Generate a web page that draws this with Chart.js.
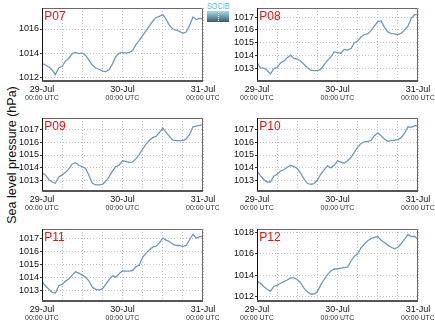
<!DOCTYPE html>
<html><head><meta charset="utf-8">
<script src="https://cdn.jsdelivr.net/npm/chart.js@4.4.0/dist/chart.umd.min.js"></script>
<style>
html,body{margin:0;padding:0;background:#fff;width:435px;height:327px;overflow:hidden;position:relative;font-family:"Liberation Sans",Arial,sans-serif}
canvas{position:absolute}
#ytitle{position:absolute;left:12px;top:155px;transform:translate(-50%,-50%) rotate(-90deg);white-space:nowrap;font-size:12.5px;color:#111}
#logo{position:absolute;left:207px;top:2px;width:22px}
#logo .t{font-size:8.5px;line-height:8px;color:#4cc3d9;letter-spacing:0;transform:scaleX(0.85);transform-origin:left}
#logo .b{width:22px;height:11px;margin-top:1px;background:linear-gradient(#a6dde8,#3a5a6d);position:relative}
#logo .b:after{content:"";position:absolute;left:11px;top:1px;height:9px;border-left:1px dotted #fff}
</style></head><body>
<div id="ytitle">Sea level pressure (hPa)</div>
<div id="logo"><div class="t">SOCIB</div><div class="b"></div></div>
<script>
const hours = [0,1,2,3,4,5,6,7,8,9,10,11,12,13,14,15,16,17,18,19,20,21,22,23,24,25,26,27,28,29,30,31,32,33,34,35,36,37,38,39,40,41,42,43,44,45,46,47,48];
const gridHours = [0,6,12,18,24,30,36,42,48];
const labelHours = [0,24,48];
const dateLabels = ['29-Jul','30-Jul','31-Jul'];
const timeLabel = '00:00 UTC';

const P07 = [1013.15,1013.0,1012.85,1012.6,1012.2,1012.75,1012.9,1013.35,1013.55,1013.95,1014.05,1013.95,1014.0,1013.8,1013.4,1013.0,1012.75,1012.65,1012.5,1012.45,1012.6,1013.1,1013.7,1014.0,1014.05,1014.0,1014.05,1014.2,1014.7,1015.05,1015.45,1015.85,1016.25,1016.65,1016.95,1017.05,1017.2,1016.8,1016.3,1016.0,1015.9,1015.8,1015.65,1015.75,1016.3,1017.0,1016.8,1016.88,1016.85];
const P08 = [1013.5,1013.05,1013.05,1012.9,1012.6,1013.0,1013.1,1013.45,1013.6,1013.85,1014.05,1013.8,1013.75,1013.6,1013.35,1013.1,1012.9,1012.85,1012.85,1012.95,1013.3,1013.65,1013.9,1014.3,1014.25,1014.2,1014.5,1014.45,1014.55,1015.0,1015.15,1015.45,1015.65,1015.7,1015.95,1016.3,1016.65,1016.7,1016.2,1015.85,1015.72,1015.7,1015.65,1015.75,1016.0,1016.3,1016.9,1017.2,1017.15];
const P09 = [1013.6,1013.45,1013.1,1012.9,1012.8,1013.3,1013.45,1013.65,1013.9,1014.3,1014.4,1014.2,1014.1,1013.95,1013.4,1012.8,1012.68,1012.68,1012.72,1012.95,1013.3,1013.75,1014.1,1014.2,1014.55,1014.5,1014.43,1014.45,1014.7,1015.05,1015.45,1015.85,1016.15,1016.35,1016.45,1016.75,1017.1,1016.75,1016.45,1016.15,1016.12,1016.12,1016.12,1016.25,1016.6,1017.2,1017.25,1017.3,1017.35];
const P10 = [1013.75,1013.4,1013.1,1012.9,1012.9,1013.35,1013.5,1013.75,1013.85,1014.05,1014.2,1014.1,1013.95,1013.6,1013.15,1012.8,1012.72,1012.78,1013.05,1013.5,1013.85,1014.15,1014.0,1014.2,1014.55,1014.45,1014.35,1014.55,1014.8,1015.2,1015.6,1015.9,1016.02,1016.05,1016.15,1016.5,1016.72,1016.5,1016.25,1016.06,1016.12,1016.15,1016.2,1016.35,1016.7,1017.2,1017.15,1017.28,1017.26];
const P11 = [1013.7,1013.4,1013.15,1012.9,1012.85,1013.4,1013.5,1013.75,1013.9,1014.2,1014.45,1014.35,1014.2,1014.05,1013.75,1013.3,1013.12,1013.08,1013.15,1013.5,1013.85,1014.15,1014.05,1014.3,1014.52,1014.5,1014.5,1014.55,1014.85,1014.95,1015.55,1015.85,1016.1,1016.32,1016.4,1016.65,1017.0,1016.85,1016.75,1016.55,1016.45,1016.45,1016.38,1016.45,1016.9,1017.3,1017.0,1017.12,1017.13];
const P12 = [1013.45,1013.25,1012.95,1012.7,1012.5,1012.95,1013.05,1013.25,1013.4,1013.55,1013.75,1013.75,1013.6,1013.3,1012.8,1012.45,1012.25,1012.25,1012.45,1013.1,1013.6,1014.05,1014.4,1014.58,1014.58,1014.65,1014.7,1014.75,1015.3,1015.75,1016.0,1016.55,1016.9,1017.2,1017.4,1017.52,1017.6,1017.25,1017.05,1016.8,1016.6,1016.45,1016.6,1016.95,1017.35,1017.8,1017.6,1017.6,1017.35];

const ticksP07 = [1012,1014,1016];
const ticksP08 = [1013,1014,1015,1016,1017];
const ticksP09 = [1013,1014,1015,1016,1017];
const ticksP10 = [1013,1014,1015,1016,1017];
const ticksP11 = [1013,1014,1015,1016,1017];
const ticksP12 = [1012,1014,1016,1018];

const rangeP07 = [1011.67,1017.75];
const rangeP08 = [1012.05,1017.7];
const rangeP09 = [1012.2,1017.88];
const rangeP10 = [1012.2,1017.88];
const rangeP11 = [1012.24,1017.7];
const rangeP12 = [1011.6,1018.3];

const panels = [
  {name:'P07', data:P07, ticks:ticksP07, range:rangeP07, box:[42,8,203,81]},
  {name:'P08', data:P08, ticks:ticksP08, range:rangeP08, box:[257,8,418,81]},
  {name:'P09', data:P09, ticks:ticksP09, range:rangeP09, box:[42,118,203,191]},
  {name:'P10', data:P10, ticks:ticksP10, range:rangeP10, box:[257,118,418,191]},
  {name:'P11', data:P11, ticks:ticksP11, range:rangeP11, box:[42,229,203,301]},
  {name:'P12', data:P12, ticks:ticksP12, range:rangeP12, box:[257,229,418,301]}
];

const FONT = '"Liberation Sans", Arial, sans-serif';

const framePlugin = {
  id:'frame',
  afterDatasetsDraw(chart){
    const {ctx, chartArea:a} = chart;
    ctx.save();
    ctx.lineWidth = 1;
    ctx.strokeStyle = '#6a6a6a';
    ctx.beginPath();
    ctx.moveTo(a.left, a.top + 0.5);
    ctx.lineTo(a.right - 0.5, a.top + 0.5);
    ctx.lineTo(a.right - 0.5, a.bottom);
    ctx.stroke();
    ctx.strokeStyle = '#111';
    ctx.beginPath();
    ctx.moveTo(a.left + 0.5, a.top);
    ctx.lineTo(a.left + 0.5, a.bottom);
    ctx.stroke();
    ctx.lineWidth = 2;
    ctx.strokeStyle = '#555';
    ctx.beginPath();
    ctx.moveTo(a.left, a.bottom);
    ctx.lineTo(a.right, a.bottom);
    ctx.stroke();
    const txt = chart.options.plugins.plabel.text;
    ctx.fillStyle = '#ee1111';
    ctx.font = '12px ' + FONT;
    ctx.textBaseline = 'alphabetic';
    ctx.textAlign = 'left';
    ctx.fillText(txt, a.left + 2.3, a.top + 12.3);
    ctx.restore();
  }
};

function makePanel(p){
  const [L,T,R,B] = p.box;
  const padL = 42, padT = 8, padR = 16, padB = 28;
  const w = R - L + padL + padR, h = B - T + padT + padB;
  const c = document.createElement('canvas');
  c.width = w; c.height = h;
  c.style.left = (L - padL) + 'px'; c.style.top = (T - padT) + 'px';
  c.style.width = w + 'px'; c.style.height = h + 'px';
  document.body.appendChild(c);
  new Chart(c, {
    type:'line',
    data:{datasets:[{
      data: hours.map((x,i)=>({x:x, y:p.data[i]})),
      borderColor:'#6f99c4', borderWidth:1.3, pointRadius:0, tension:0, fill:false
    }]},
    options:{
      responsive:false, animation:false, devicePixelRatio:1,
      layout:{padding:{left:0, top:padT, right:padR, bottom:0}},
      plugins:{legend:{display:false}, tooltip:{enabled:false}, plabel:{text:p.name}},
      scales:{
        x:{
          type:'linear', position:'bottom', min:0, max:48,
          afterBuildTicks:s=>{ s.ticks = gridHours.map(v=>({value:v})); },
          afterFit:s=>{ s.height = 11; s.paddingLeft = 0; s.paddingRight = 0; },
          ticks:{autoSkip:false, maxRotation:0, padding:3, color:'#111',
            font:{family:FONT, size:9},
            callback:v=>{ const i = labelHours.indexOf(v); return i >= 0 ? dateLabels[i] : ''; }},
          grid:{color:'#c2c2c2', lineWidth:1, drawTicks:false},
          border:{display:false, dash:[1,2]}
        },
        x2:{
          type:'linear', position:'bottom', min:0, max:48,
          afterBuildTicks:s=>{ s.ticks = labelHours.map(v=>({value:v})); },
          afterFit:s=>{ s.height = 17; s.paddingLeft = 0; s.paddingRight = 0; },
          ticks:{autoSkip:false, maxRotation:0, padding:2, color:'#333',
            font:{family:FONT, size:7}, callback:()=>timeLabel},
          grid:{display:false, drawTicks:false},
          border:{display:false}
        },
        y:{
          type:'linear', min:p.range[0], max:p.range[1],
          afterBuildTicks:s=>{ s.ticks = p.ticks.map(v=>({value:v})); },
          afterFit:s=>{ s.width = 42; s.paddingTop = 0; s.paddingBottom = 0; },
          ticks:{padding:1, color:'#111', font:{family:FONT, size:9}, callback:v=>String(v)},
          grid:{color:'#c2c2c2', lineWidth:1, tickColor:'#333', tickLength:2, tickBorderDash:[1,0]},
          border:{display:false, dash:[1,2]}
        }
      }
    },
    plugins:[framePlugin]
  });
}
panels.forEach(makePanel);
</script>
</body></html>
